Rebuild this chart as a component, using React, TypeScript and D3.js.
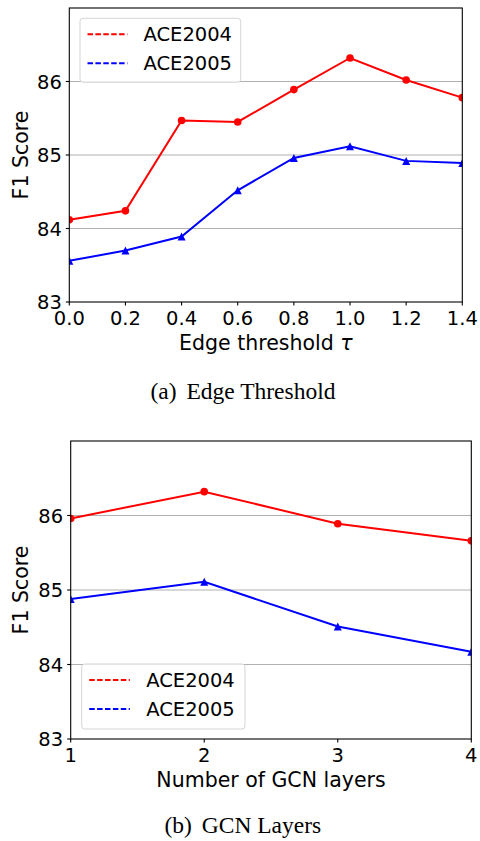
import React from 'react';
import * as d3 from 'd3';

const thresholds = [0.0, 0.2, 0.4, 0.6, 0.8, 1.0, 1.2, 1.4];
const ace2004ByThreshold = [84.12, 84.24, 85.47, 85.45, 85.89, 86.32, 86.02, 85.78];
const ace2005ByThreshold = [83.56, 83.70, 83.89, 84.52, 84.96, 85.12, 84.92, 84.89];

const layers = [1, 2, 3, 4];
const ace2004ByLayers = [85.96, 86.32, 85.89, 85.66];
const ace2005ByLayers = [84.88, 85.11, 84.51, 84.17];

const yTicks = [83, 84, 85, 86];
const yDomain = [83, 87];
const seriesNames = ['ACE2004', 'ACE2005'];
const seriesColors = ['#ff0000', '#0000ff'];

const SANS = '"DejaVu Sans", sans-serif';
const SERIF = '"Liberation Serif", "Times New Roman", serif';

const triangleType = {
  draw(context: any, size: number) {
    const s = Math.sqrt(size) / 2;
    context.moveTo(0, -s);
    context.lineTo(s, s);
    context.lineTo(-s, s);
    context.closePath();
  },
};

type Box = { left: number; right: number; top: number; bottom: number };

function Panel(props: {
  id: string;
  xs: number[];
  series: number[][];
  xTicks: number[];
  xFmt: (d: number) => string;
  box: Box;
  xLabel: string;
  xLabelSymbol?: string;
  legendX: number;
  legendY: number;
  legendW: number;
  legendH: number;
  caption: [string, string];
  captionX: number;
  captionY: number;
}) {
  const { id, xs, series, xTicks, xFmt, box, xLabel } = props;
  const x = d3.scaleLinear().domain([xs[0], xs[xs.length - 1]]).range([box.left, box.right]);
  const y = d3.scaleLinear().domain(yDomain).range([box.bottom, box.top]);
  const line = d3
    .line<number>()
    .x((_, i) => x(xs[i]))
    .y((d) => y(d));
  const circle = d3.symbol(d3.symbolCircle, Math.PI * 3.8 * 3.8)();
  const tri = d3.symbol(triangleType as any, 64)();
  const cx = (box.left + box.right) / 2;
  const cy = (box.top + box.bottom) / 2;
  const lw = props.legendW;
  return (
    <g>
      <defs>
        <clipPath id={id}>
          <rect x={box.left} y={box.top} width={box.right - box.left} height={box.bottom - box.top} />
        </clipPath>
      </defs>
      {yTicks
        .filter((t) => t > yDomain[0])
        .map((t) => (
          <line key={t} x1={box.left} x2={box.right} y1={y(t)} y2={y(t)} stroke="#b0b0b0" strokeWidth={1} />
        ))}
      <g clipPath={`url(#${id})`}>
        {series.map((vals, si) => (
          <g key={si}>
            <path d={line(vals) || ''} fill="none" stroke={seriesColors[si]} strokeWidth={2} />
            {vals.map((v, i) => (
              <path
                key={i}
                d={(si === 0 ? circle : tri) || ''}
                transform={`translate(${x(xs[i])},${y(v)})`}
                fill={seriesColors[si]}
              />
            ))}
          </g>
        ))}
      </g>
      <rect
        x={box.left}
        y={box.top}
        width={box.right - box.left}
        height={box.bottom - box.top}
        fill="none"
        stroke="#000"
        strokeWidth={1.1}
      />
      {xTicks.map((t) => (
        <g key={t}>
          <line x1={x(t)} x2={x(t)} y1={box.bottom} y2={box.bottom + 3.5} stroke="#000" strokeWidth={1.1} />
          <text x={x(t)} y={box.bottom + 23} textAnchor="middle" fontFamily={SANS} fontSize={19.5} fill="#000">
            {xFmt(t)}
          </text>
        </g>
      ))}
      {yTicks.map((t) => (
        <g key={t}>
          <line x1={box.left - 3.5} x2={box.left} y1={y(t)} y2={y(t)} stroke="#000" strokeWidth={1.1} />
          <text
            x={box.left - 7.5}
            y={y(t)}
            dy="0.36em"
            textAnchor="end"
            fontFamily={SANS}
            fontSize={19.5}
            fill="#000"
          >
            {t}
          </text>
        </g>
      ))}
      <text x={cx} y={box.bottom + 48} textAnchor="middle" fontFamily={SANS} fontSize={20.5} fill="#000">
        {xLabel}
        {props.xLabelSymbol ? <tspan fontStyle="italic">{props.xLabelSymbol}</tspan> : null}
      </text>
      <text
        transform={`translate(28,${cy}) rotate(-90)`}
        textAnchor="middle"
        fontFamily={SANS}
        fontSize={20.5}
        fill="#000"
      >
        F1 Score
      </text>
      <g transform={`translate(${props.legendX},${props.legendY})`}>
        <rect
          x={0}
          y={0}
          width={lw}
          height={props.legendH}
          rx={3}
          fill="#fff"
          fillOpacity={0.85}
          stroke="#d5d5d5"
          strokeWidth={1}
        />
        {seriesNames.map((name, i) => {
          const ly = 16 + i * 29;
          return (
            <g key={name}>
              <line
                x1={7.5}
                x2={lw * 0.295}
                y1={ly}
                y2={ly}
                stroke={seriesColors[i]}
                strokeWidth={2}
                strokeDasharray="5.5,2.4"
              />
              <text x={lw * 0.395} y={ly} dy="0.36em" fontFamily={SANS} fontSize={19.5} fill="#000">
                {name}
              </text>
            </g>
          );
        })}
      </g>
      <text x={props.captionX} y={props.captionY} fontFamily={SERIF} fontSize={23.5} fill="#000">
        <tspan>{props.caption[0]}</tspan>
        <tspan dx="0.42em">{props.caption[1]}</tspan>
      </text>
    </g>
  );
}

export default function App() {
  return (
    <svg
      width={480}
      height={841}
      viewBox="0 0 480 841"
      style={{ position: 'absolute', left: 0, top: 0, background: '#fff' }}
    >
      <rect x={0} y={0} width={480} height={841} fill="#fff" />
      <Panel
        id="clipA"
        xs={thresholds}
        series={[ace2004ByThreshold, ace2005ByThreshold]}
        xTicks={thresholds}
        xFmt={d3.format('.1f')}
        box={{ left: 69.3, right: 462.3, top: 8, bottom: 302 }}
        xLabel="Edge threshold "
        xLabelSymbol="τ"
        legendX={80}
        legendY={18.3}
        legendW={160.7}
        legendH={64}
        caption={['(a)', 'Edge Threshold']}
        captionX={150.5}
        captionY={399}
      />
      <Panel
        id="clipB"
        xs={layers}
        series={[ace2004ByLayers, ace2005ByLayers]}
        xTicks={layers}
        xFmt={d3.format('d')}
        box={{ left: 70.7, right: 471.3, top: 441, bottom: 739 }}
        xLabel="Number of GCN layers"
        legendX={81.7}
        legendY={664}
        legendW={163.3}
        legendH={65}
        caption={['(b)', 'GCN Layers']}
        captionX={164.5}
        captionY={833}
      />
    </svg>
  );
}
